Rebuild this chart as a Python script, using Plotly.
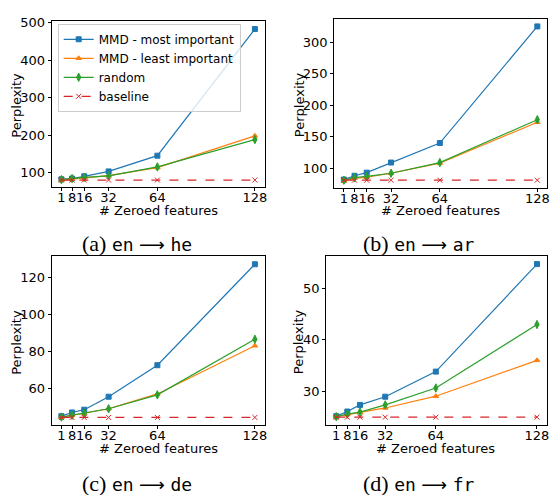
import plotly.graph_objects as go

W, H = 552, 495
x_vals = [1, 8, 16, 32, 64, 128]
x_ticks = [1, 8, 16, 32, 64, 128]

# panel (a) en -> he
he_most = [82, 84, 90, 103, 145, 483]
he_least = [80, 83, 86, 92, 113, 198]
he_random = [81, 84, 87, 91, 115, 188]
he_base = [80, 80, 80, 80, 80, 80]

# panel (b) en -> ar
ar_most = [82, 88, 93, 109, 140, 325]
ar_least = [80, 84, 86, 92, 108, 173]
ar_random = [81, 85, 87, 92, 109, 177]
ar_base = [81, 81, 81, 81, 81, 81]

# panel (c) en -> de
de_most = [45, 47, 48.5, 55.5, 72.5, 127]
de_least = [44.5, 45.5, 46.5, 49, 57, 83]
de_random = [44.5, 45.5, 46.5, 49, 56.5, 86.5]
de_base = [44.3] * 6

# panel (d) en -> fr
fr_most = [25.1, 26, 27.3, 28.9, 33.8, 54.8]
fr_least = [25, 25.4, 25.8, 26.7, 29, 36]
fr_random = [25, 25.5, 25.9, 27.3, 30.6, 43]
fr_base = [24.9] * 6

y_ticks = {
    "a": [100, 200, 300, 400, 500],
    "b": [100, 150, 200, 250, 300],
    "c": [60, 80, 100, 120],
    "d": [30, 40, 50],
}
y_ranges = {"a": [62, 505], "b": [69, 337], "c": [40.3, 131.5], "d": [23.4, 56.4]}

series_names = ["MMD - most important", "MMD - least important", "random", "baseline"]
colors = ["#1f77b4", "#ff7f0e", "#2ca02c", "#d62728"]
symbols = ["square", "triangle-up", "diamond-tall", "x-thin-open"]

panels = {
    "a": [he_most, he_least, he_random, he_base],
    "b": [ar_most, ar_least, ar_random, ar_base],
    "c": [de_most, de_least, de_random, de_base],
    "d": [fr_most, fr_least, fr_random, fr_base],
}
# pixel boxes: x0, x1, y0(top), y1(bottom)
boxes = {
    "a": (52, 266, 15, 183),
    "b": (336, 550, 13, 184),
    "c": (52, 266, 253, 424),
    "d": (328, 550, 253, 424),
}
captions = {
    "a": ("(a)", "he", 138, 240),
    "b": ("(b)", "ar", 421, 240),
    "c": ("(c)", "de", 138, 483),
    "d": ("(d)", "fr", 421, 483),
}
ylab_pos = {"a": (17, 100), "b": (301, 100), "c": (17, 340), "d": (301, 340)}
xlab_pos = {"a": (159, 207), "b": (443, 207), "c": (159, 448), "d": (438, 448)}

fig = go.Figure()
annotations = []
font = "DejaVu Sans"

for i, key in enumerate(["a", "b", "c", "d"]):
    xa = "x" if i == 0 else f"x{i+1}"
    ya = "y" if i == 0 else f"y{i+1}"
    for j, ys in enumerate(panels[key]):
        fig.add_trace(go.Scatter(
            x=x_vals, y=ys, mode="lines+markers", name=series_names[j],
            xaxis=xa, yaxis=ya, showlegend=(i == 0),
            line=dict(color=colors[j], width=1.2, dash="dash" if j == 3 else "solid"),
            marker=dict(symbol=symbols[j], size=5 if j != 2 else 6, color=colors[j],
                        line=dict(width=1, color=colors[j])),
        ))
    x0, x1, y0, y1 = boxes[key]
    axkw = dict(showline=True, mirror=True, linecolor="black", linewidth=1,
                ticks="outside", ticklen=3, tickcolor="black", showgrid=False,
                zeroline=False, tickangle=0,
                tickfont=dict(family=font, size=13, color="black"))
    fig.layout[("xaxis" if i == 0 else f"xaxis{i+1}")] = dict(
        domain=[x0 / W, x1 / W], anchor=ya, range=[-5.35, 134.35], ticklabelstandoff=-4,
        tickmode="array", tickvals=x_ticks, ticktext=[str(t) for t in x_ticks], **axkw)
    fig.layout[("yaxis" if i == 0 else f"yaxis{i+1}")] = dict(
        domain=[1 - y1 / H, 1 - y0 / H], anchor=xa, range=y_ranges[key],
        tickmode="array", tickvals=y_ticks[key], **axkw)
    common = dict(xref="paper", yref="paper", showarrow=False, xanchor="center", yanchor="middle")
    lx, ly = ylab_pos[key]
    annotations.append(dict(text="Perplexity", x=lx / W, y=1 - ly / H, textangle=-90,
                            font=dict(family=font, size=13, color="black"), **common))
    lx, ly = xlab_pos[key]
    annotations.append(dict(text="# Zeroed features", x=lx / W, y=1 - ly / H,
                            font=dict(family=font, size=13, color="black"), **common))
    lab, tgt, cx, cy = captions[key]
    mono = "font-family:'DejaVu Sans Mono';font-size:18px"
    arrow = "font-family:'DejaVu Sans';font-size:18px"
    txt = (f"{lab} <span style=\"{mono}\">en</span> <span style=\"{arrow}\">⟶</span> "
           f"<span style=\"{mono}\">{tgt}</span>")
    annotations.append(dict(text=txt, x=cx / W, y=1 - cy / H,
                            font=dict(family="Liberation Serif", size=22, color="black"), **common))

fig.update_layout(
    width=W, height=H, margin=dict(l=0, r=0, t=0, b=0),
    paper_bgcolor="white", plot_bgcolor="white",
    annotations=annotations,
    legend=dict(x=58 / W, y=1 - 18 / H, xanchor="left", yanchor="top",
                bgcolor="rgba(255,255,255,0.8)", bordercolor="#cccccc", borderwidth=1,
                font=dict(family=font, size=12, color="black"), tracegroupgap=0,
                itemwidth=30),
)
fig.write_html("out.html", config={"displayModeBar": False},
               post_script="document.body.style.margin='0';")
